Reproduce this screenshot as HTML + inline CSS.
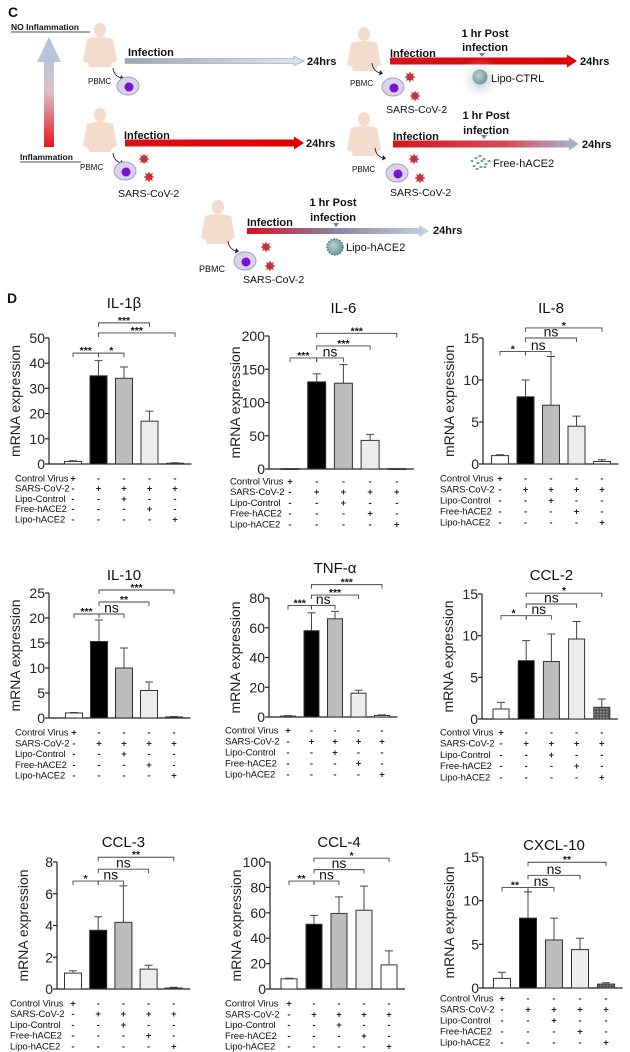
<!DOCTYPE html>
<html><head><meta charset="utf-8">
<style>
html,body{margin:0;padding:0;background:#fff;}
svg{display:block;font-family:"Liberation Sans",Arial,sans-serif;}
</style></head>
<body>
<svg id="fig" width="630" height="1052" viewBox="0 0 630 1052" xmlns="http://www.w3.org/2000/svg">
<defs>
  <linearGradient id="gV" x1="0" y1="0" x2="0" y2="1">
    <stop offset="0" stop-color="#a9c4e6"/><stop offset="0.5" stop-color="#d9c0c8"/><stop offset="1" stop-color="#e8141c"/>
  </linearGradient>
  <linearGradient id="gBlue" x1="0" x2="1"><stop offset="0" stop-color="#9aa6b8"/><stop offset="1" stop-color="#dfe6f0"/></linearGradient>
  <linearGradient id="gRed" x1="0" x2="1"><stop offset="0" stop-color="#d4141c"/><stop offset="1" stop-color="#e00000"/></linearGradient>
  <linearGradient id="gRB" x1="0" x2="1"><stop offset="0" stop-color="#d4141c"/><stop offset="0.6" stop-color="#d94a55"/><stop offset="1" stop-color="#a9b9d6"/></linearGradient>
  <linearGradient id="gRB2" x1="0" x2="1"><stop offset="0" stop-color="#d4141c"/><stop offset="0.45" stop-color="#8a7ea0"/><stop offset="1" stop-color="#c6d2e6"/></linearGradient>
  <radialGradient id="gSph" cx="0.4" cy="0.4" r="0.6"><stop offset="0" stop-color="#b9d3d5"/><stop offset="1" stop-color="#6f9698"/></radialGradient>
  <radialGradient id="gGlow" cx="0.5" cy="0.5" r="0.5"><stop offset="0" stop-color="#888" stop-opacity="0.55"/><stop offset="1" stop-color="#fff" stop-opacity="0"/></radialGradient>
  <pattern id="hatch" width="3" height="3" patternUnits="userSpaceOnUse"><rect width="3" height="3" fill="#555"/><rect width="1.5" height="1.5" fill="#999"/></pattern>
</defs>
<g id="schematic"></g>
<g id="charts"></g>
</svg>
<script>
const NS="http://www.w3.org/2000/svg";
function el(tag,attrs,parent,text){const e=document.createElementNS(NS,tag);for(const k in attrs)e.setAttribute(k,attrs[k]);if(text!==undefined)e.textContent=text;parent.appendChild(e);return e;}

/* ---------- Panel C schematic ---------- */
const S=document.getElementById('schematic');
function txt(x,y,s,size,bold,name,anchor){const t=el('text',{x:x,y:y,'font-size':size,'font-weight':bold?'bold':'normal','text-anchor':anchor||'start',fill:'#111'},S,s);

return t;}
txt(8,17,'C',14,true,'panel-c-label');
txt(11,30,'NO Inflammation',8.5,true,'no-inflammation-label');
el('line',{x1:11,y1:32,x2:90,y2:32,stroke:'#111','stroke-width':0.8},S);
txt(20,160,'Inflammation',8.5,true,'inflammation-label');
el('line',{x1:20,y1:162,x2:81,y2:162,stroke:'#111','stroke-width':0.8},S);
const va=el('polygon',{points:'44,147 54,147 54,62 61,62 49,37 37,62 44,62',fill:'url(#gV)'},S);



function person(x,y){const g=el('g',{fill:'#f3dccb'},S);


el('ellipse',{cx:x+17,cy:y+7,rx:6,ry:7},g);
el('path',{d:`M${x+4},${y+16} Q${x+17},${y+12} ${x+30},${y+16} L${x+34},${y+38} L${x+29},${y+40} L${x+28},${y+44} L${x+6},${y+44} L${x+5},${y+40} L${x},${y+38} Z`},g);}
function cell(x,y){const g=el('g',{},S);


el('ellipse',{cx:x,cy:y,rx:11,ry:9,fill:'#d9d3ea',stroke:'#a99cc8','stroke-width':1},g);
el('circle',{cx:x+1,cy:y+1,r:4.5,fill:'#7a10d8'},g);}
function virus(x,y){const g=el('g',{stroke:'#c0343a','stroke-width':1.2},S);


for(let a=0;a<8;a++){const r=a*Math.PI/4;el('line',{x1:x,y1:y,x2:x+5*Math.cos(r),y2:y+5*Math.sin(r)},g);}
el('circle',{cx:x,cy:y,r:3,fill:'#c0343a'},g);}
function arrow(x1,x2,y,fill,h,name,hollow){const hw=hollow?4:5;const p=`${x1},${y-h/2} ${x2-10},${y-h/2} ${x2-10},${y-hw-h/2+2} ${x2},${y} ${x2-10},${y+hw+h/2-2} ${x2-10},${y+h/2} ${x1},${y+h/2}`;
const a=el('polygon',{points:p,fill:fill,stroke:hollow?'#8d97a8':'none','stroke-width':0.6},S);

}
function tri(x,y){el('polygon',{points:`${x-3},${y-3} ${x+3},${y-3} ${x},${y+1}`,fill:'#6d7fa6'},S);}
function arrowCurve(x,y){el('path',{d:`M${x},${y} Q${x+1},${y+8} ${x+8},${y+10}`,fill:'none',stroke:'#222','stroke-width':0.9},S);el('polygon',{points:`${x+8},${y+7} ${x+11},${y+10.5} ${x+7},${y+12.5}`,fill:'#222'},S);}

person(83,23);arrowCurve(113,68);cell(128,86);txt(88,84,'PBMC',8,false,'pbmc-label');
arrow(125,304,61,'url(#gBlue)',5,'no-infection-arrow',true);
txt(128,56,'Infection',11,true,'infection-label');txt(307,65,'24hrs',11,true,'24hrs-label');
person(83,108);arrowCurve(113,153);cell(125,171);virus(144,159);virus(149,177);
txt(80,170,'PBMC',8,false,'pbmc-label');txt(118,197,'SARS-CoV-2',10.5,false,'sars-cov-2-label');
arrow(125,304,143,'url(#gRed)',7,'infection-arrow');
txt(124,139,'Infection',11,true,'infection-label');txt(306,147,'24hrs',11,true,'24hrs-label');
person(347,27);arrowCurve(372,63);cell(393,87);virus(410,77);virus(415,96);
txt(350,86,'PBMC',8,false,'pbmc-label');txt(386,113,'SARS-CoV-2',10.5,false,'sars-cov-2-label');
arrow(390,577,61,'url(#gRed)',7,'infection-lipo-ctrl-arrow');
txt(390,57,'Infection',11,true,'infection-label');
txt(485,37,'1 hr Post',11,true,'1hr-post-label','middle');txt(485,51,'infection',11,true,'infection-timing-label','middle');
tri(482,56);txt(580,65,'24hrs',11,true,'24hrs-label');
el('circle',{cx:480,cy:80,r:22,fill:'url(#gGlow)'},S);
el('circle',{cx:480,cy:77,r:7.5,fill:'url(#gSph)'},S);
txt(491,82,'Lipo-CTRL',11,false,'lipo-ctrl-label');
person(347,112);arrowCurve(375,148);cell(397,173);virus(414,159);virus(420,178);
txt(352,172,'PBMC',8,false,'pbmc-label');txt(390,196,'SARS-CoV-2',10.5,false,'sars-cov-2-label');
arrow(393,579,144,'url(#gRB)',7,'infection-free-hace2-arrow');
txt(393,140,'Infection',11,true,'infection-label');
txt(486,119,'1 hr Post',11,true,'1hr-post-label','middle');txt(486,134,'infection',11,true,'infection-timing-label','middle');
tri(484,138);txt(582,148,'24hrs',11,true,'24hrs-label');
[[472,161],[476,158],[480,156],[484,159],[474,166],[478,163],[482,161],[486,164],[477,169],[481,167],[485,167],[489,161]].forEach(p=>el('ellipse',{cx:p[0],cy:p[1],rx:1.6,ry:1,fill:'#5aa88f'},S));
txt(493,167,'Free-hACE2',11,false,'free-hace2-label');
person(201,200);arrowCurve(228,241);cell(245,261);virus(266,247);virus(270,266);
txt(199,272,'PBMC',9,false,'pbmc-label');txt(243,283,'SARS-CoV-2',10.5,false,'sars-cov-2-label');
arrow(247,429,231,'url(#gRB2)',6,'infection-lipo-hace2-arrow');
txt(247,226,'Infection',11,true,'infection-label');
txt(333,206,'1 hr Post',11,true,'1hr-post-label','middle');txt(333,221,'infection',11,true,'infection-timing-label','middle');
tri(336,226);txt(433,234,'24hrs',11,true,'24hrs-label');
el('circle',{cx:335,cy:247,r:8,fill:'url(#gSph)',stroke:'#4f7777','stroke-width':1.5,'stroke-dasharray':'1.5 1.5'},S);
txt(346,251,'Lipo-hACE2',11,false,'lipo-hace2-label');
txt(7,303,'D',14,true,'panel-d-label');

/* ---------- Panel D charts: data ---------- */
const rowLabels=['Control Virus','SARS-CoV-2','Lipo-Control','Free-hACE2','Lipo-hACE2'];
const signs=[['+','-','-','-','-'],['-','+','+','+','+'],['-','-','+','-','-'],['-','-','-','+','-'],['-','-','-','-','+']];
const titles=['IL-1β','IL-6','IL-8','IL-10','TNF-α','CCL-2','CCL-3','CCL-4','CXCL-10'];
const yMax=[50,200,15,25,80,15,8,100,15];
const yTicks=[[0,10,20,30,40,50],[0,50,100,150,200],[0,5,10,15],[0,5,10,15,20,25],[0,20,40,60,80],[0,5,10,15],[0,2,4,6,8],[0,20,40,60,80,100],[0,5,10,15]];
const means=[
 [1,35,34,17,0.3],
 [0.5,131,129,43,0.5],
 [1,8,7,4.5,0.3],
 [1,15.3,10,5.5,0.2],
 [0.6,58,66,16,1],
 [1.2,7,6.9,9.6,1.4],
 [1,3.7,4.2,1.25,0.06],
 [8,51,59.5,62,19],
 [1.1,8,5.5,4.4,0.45]];
const errs=[
 [0.3,6,4.5,4,0.2],
 [0.3,12,28,9,0.3],
 [0.1,2,5.8,1.2,0.2],
 [0.1,4.3,4,1.7,0.1],
 [0.3,12,5,2,0.4],
 [0.8,2.4,3.3,2.1,1],
 [0.15,0.85,2.3,0.25,0.05],
 [0.5,7,13,19,11],
 [0.7,3,2.5,1.3,0.15]];
const sigLabels=[
 ['***','*','***','***'],['***','ns','***','***'],['*','ns','ns','*'],
 ['***','ns','**','***'],['***','ns','***','***'],['*','ns','ns','*'],
 ['*','ns','ns','**'],['**','ns','ns','*'],['**','ns','ns','**']];
const sigLevels=[
 [44,44,56,52],[167,167,185,204],[13.4,13.4,15,16.2],
 [20.8,20.8,23.2,25.6],[75,75,82,89],[12.4,12.4,13.8,15.1],
 [6.8,6.8,7.55,8.3],[85,85,94,103],[11.5,11.5,12.9,14.4]];
const sigPairs=[[0,1],[1,2],[1,3],[1,4]];

/* ---------- layout (pixels) ---------- */
const layout=[
 {ax:49,y0:464,yt:338,b0:73,bs:25.5,bw:17,ty:308,lx:15,r0:478,rs:10.2,hatch:false},
 {ax:269,y0:469,yt:336,b0:290,bs:26.7,bw:18,ty:313,lx:230,r0:481,rs:10.7,hatch:false},
 {ax:483,y0:464,yt:338,b0:500,bs:25.5,bw:17,ty:313,lx:440,r0:478,rs:11,hatch:false},
 {ax:49,y0:718,yt:593,b0:74,bs:25,bw:17,ty:580,lx:15,r0:732,rs:10.8,hatch:false},
 {ax:269,y0:717,yt:598,b0:288,bs:23.5,bw:15,ty:573,lx:225,r0:730,rs:11,hatch:false},
 {ax:482,y0:719,yt:594,b0:501,bs:25.2,bw:16,ty:580,lx:440,r0:732,rs:11.2,hatch:true},
 {ax:57,y0:989,yt:862,b0:73,bs:25.2,bw:17,ty:847,lx:10,r0:1003,rs:10.7,hatch:false},
 {ax:270,y0:989,yt:862,b0:289,bs:25,bw:16,ty:847,lx:225,r0:1003,rs:10.8,hatch:false},
 {ax:483,y0:988,yt:857,b0:502,bs:26,bw:17,ty:850,lx:440,r0:998,rs:11,hatch:true}];
const fills=['#ffffff','#000000','#bdbdbd','#ececec','#ffffff'];

const C=document.getElementById('charts');
layout.forEach((L,p)=>{
  const g=el('g',{},C);
  
  
  const y=v=>L.y0-v/yMax[p]*(L.y0-L.yt);
  const xc=i=>L.b0+i*L.bs;
  const xEnd=xc(4)+L.bw/2+8;
  const t=el('text',{x:xc(2),y:L.ty,'font-size':15,'text-anchor':'middle',fill:'#111'},g,titles[p]);
  
  
  const ya=el('line',{x1:L.ax,y1:L.yt,x2:L.ax,y2:L.y0,stroke:'#222','stroke-width':1.2},g);
  
  
  const xa=el('line',{x1:L.ax,y1:L.y0,x2:xEnd,y2:L.y0,stroke:'#222','stroke-width':1.2},g);
  
  
  yTicks[p].forEach(v=>{
    el('line',{x1:L.ax-4,y1:y(v),x2:L.ax,y2:y(v),stroke:'#222','stroke-width':1.2},g);
    const tl=el('text',{x:L.ax-4,y:y(v)+5,'font-size':14,'text-anchor':'end',fill:'#222'},g,String(v));
    
    
  });
  const ym=(L.y0+L.yt)/2, yx=L.ax-29;
  const yl=el('text',{x:yx,y:ym,'font-size':14,'text-anchor':'middle',fill:'#222',transform:`rotate(-90 ${yx} ${ym})`},g,'mRNA expression');
  
  
  means[p].forEach((m,i)=>{
    const top=y(m), x=xc(i);
    let f=fills[i]; if(i===4&&L.hatch) f='url(#hatch)';
    const b=el('rect',{x:x-L.bw/2,y:top,width:L.bw,height:Math.max(L.y0-top,0.8),fill:f,stroke:'#333','stroke-width':1},g);
    
    
    const et=y(m+errs[p][i]);
    const e=el('path',{d:`M${x},${top} V${et} M${x-4},${et} H${x+4}`,stroke:'#444','stroke-width':1,fill:'none'},g);
    
    
  });
  sigPairs.forEach((pr,k)=>{
    const yy=y(sigLevels[p][k]), x1=xc(pr[0]), x2=xc(pr[1]);
    const br=el('path',{d:`M${x1},${yy+4} V${yy} H${x2} V${yy+4}`,stroke:'#444','stroke-width':0.9,fill:'none'},g);
    
    
    const lab=sigLabels[p][k], isNs=lab==='ns';
    const s=el('text',{x:(x1+x2)/2,y:isNs?yy-1.5:yy+1,'font-size':isNs?14:10.5,'font-weight':isNs?'normal':'bold','text-anchor':'middle',fill:'#111'},g,lab);
    
    
  });
  rowLabels.forEach((r,ri)=>{
    const ry=L.r0+ri*L.rs;
    const rl=el('text',{x:L.lx,y:ry+3.5,'font-size':9.5,'letter-spacing':-0.1,fill:'#111'},g,r);
    
    
    signs[ri].forEach((sg,ci)=>{
      const st=el('text',{x:xc(ci),y:ry+3.5,'font-size':9.5,'font-weight':'bold','text-anchor':'middle',fill:'#222'},g,sg);
      
      
    });
  });
});
</script>
</body></html>
